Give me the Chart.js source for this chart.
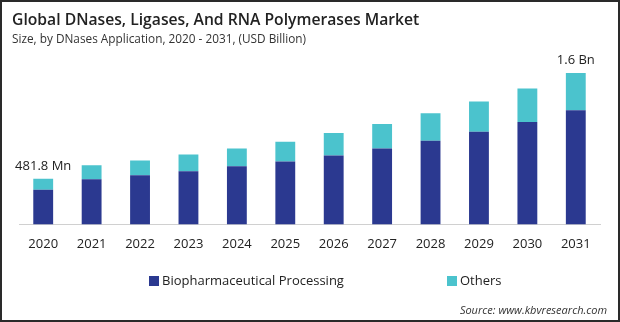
<!DOCTYPE html>
<html>
<head>
<meta charset="utf-8">
<script src="https://cdn.jsdelivr.net/npm/chart.js@4/dist/chart.umd.min.js"></script>
<style>
  html, body { margin: 0; padding: 0; background: #fff; }
  #frame { position: relative; width: 620px; height: 322px; box-sizing: border-box;
           border: 2px solid #2a2a2a; overflow: hidden; background: #fff; }
  #title { position: absolute; left: 10px; top: 6px; font: 600 15.7px "Open Sans", sans-serif; color: #222; white-space: nowrap; }
  #subtitle { position: absolute; left: 10px; top: 28px; font: 11.8px "Open Sans", sans-serif; color: #333; white-space: nowrap; }
  #source { position: absolute; right: 11px; top: 300px; font: italic 11px "Open Sans", sans-serif; color: #333; white-space: nowrap; }
  #wrap { position: absolute; left: -2px; top: -2px; width: 620px; height: 322px; }
</style>
</head>
<body>
<div id="frame">
  <div id="wrap"><canvas id="c" width="620" height="322"></canvas></div>
  <div id="title">Global DNases, Ligases, And RNA Polymerases Market</div>
  <div id="subtitle">Size, by DNases Application, 2020 - 2031, (USD Billion)</div>
  <div id="source">Source: www.kbvresearch.com</div>
</div>
<script>
const categories = ["2020","2021","2022","2023","2024","2025","2026","2027","2028","2029","2030","2031"];
const biopharmaceutical = [365, 478, 520, 562, 614, 666, 728, 801, 884, 978, 1082, 1206];
const others = [116.8, 146, 156, 176, 187, 208, 239, 260, 291, 322, 353, 394];
const seriesNames = ["Biopharmaceutical Processing", "Others"];
const seriesColors = ["#2b3990", "#4bc3cd"];
const endLabels = { 0: "481.8 Mn", 11: "1.6 Bn" };

const valueLabels = {
  id: 'valueLabels',
  afterDatasetsDraw(chart) {
    const ctx = chart.ctx;
    const meta = chart.getDatasetMeta(1);
    ctx.save();
    ctx.font = '13px "Open Sans", sans-serif';
    ctx.fillStyle = '#222';
    ctx.textAlign = 'center';
    ctx.textBaseline = 'bottom';
    Object.keys(endLabels).forEach(k => {
      const el = meta.data[k];
      ctx.fillText(endLabels[k], el.x, el.y - 6);
    });
    ctx.restore();
  }
};

const customLegend = {
  id: 'customLegend',
  afterDraw(chart) {
    const ctx = chart.ctx;
    const xs = [149, 447];
    const y = 281;
    ctx.save();
    ctx.font = '13px "Open Sans", sans-serif';
    ctx.textBaseline = 'middle';
    ctx.textAlign = 'left';
    chart.data.datasets.forEach((ds, i) => {
      ctx.fillStyle = ds.backgroundColor;
      ctx.fillRect(xs[i], y - 5, 10, 10);
      ctx.fillStyle = '#222';
      ctx.fillText(ds.label, xs[i] + 13, y);
    });
    ctx.restore();
  }
};

new Chart(document.getElementById('c'), {
  type: 'bar',
  data: {
    labels: categories,
    datasets: [
      { label: seriesNames[0], data: biopharmaceutical, backgroundColor: seriesColors[0], categoryPercentage: 0.82, barPercentage: 0.5 },
      { label: seriesNames[1], data: others, backgroundColor: seriesColors[1], categoryPercentage: 0.82, barPercentage: 0.5 }
    ]
  },
  options: {
    responsive: false,
    animation: false,
    devicePixelRatio: 1,
    layout: { padding: { left: 19, right: 20, top: 73, bottom: 58 } },
    plugins: { legend: { display: false }, tooltip: { enabled: false }, title: { display: false } },
    scales: {
      x: {
        stacked: true,
        grid: { display: false, drawTicks: false },
        border: { display: true, color: '#d0d0d0', width: 1 },
        ticks: { color: '#222', font: { family: '"Open Sans", sans-serif', size: 13 }, padding: 12 }
      },
      y: {
        stacked: true,
        display: false,
        min: 0,
        max: 1600
      }
    }
  },
  plugins: [valueLabels, customLegend]
});
</script>
</body>
</html>
